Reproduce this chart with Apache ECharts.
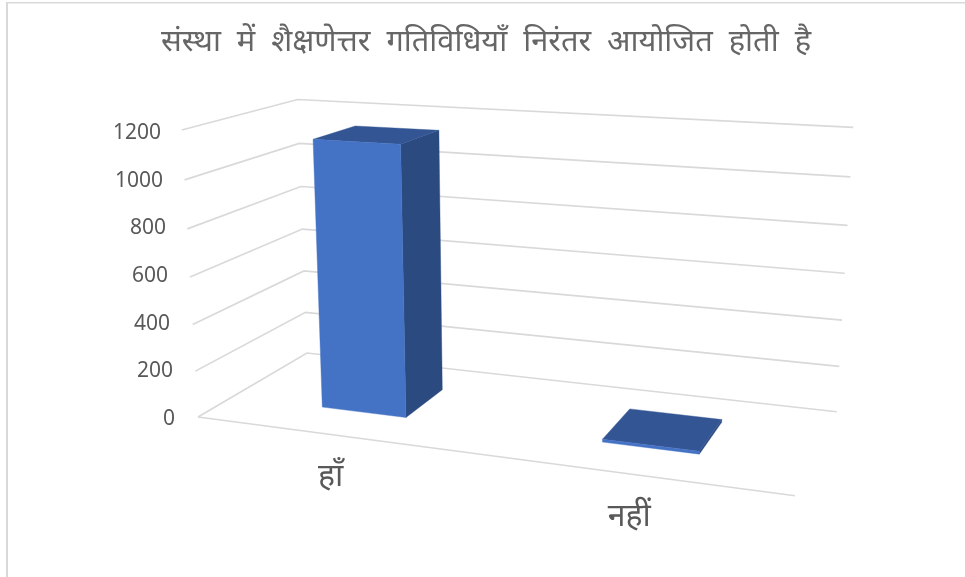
<!DOCTYPE html>
<html><head><meta charset="utf-8">
<style>html,body{margin:0;padding:0;background:#fff}#c{width:965px;height:577px}</style>
<script src="https://cdn.jsdelivr.net/npm/echarts@6/dist/echarts.min.js"></script>
</head><body><div id="c"></div>
<script>
const titleText = 'संस्था  में  शैक्षणेत्तर  गतिविधियाँ  निरंतर  आयोजित  होती  है';
const categories = ['हाँ', 'नहीं'];
const seriesValues = [1140, 12];
const tickValues = [0, 200, 400, 600, 800, 1000, 1200];

const FONT = '"Noto Sans","Open Sans",sans-serif';
const GREY = '#595959';
const TICK_FONT = { fontFamily: FONT, fontSize: 21, color: GREY };
const tickRich = {};
tickValues.forEach((v, i) => { tickRich['r' + v] = Object.assign({ padding: [0, Math.round(i * 2.33), 0, 0] }, TICK_FONT); });
// perspective matrix of the chart box: u along categories, d into depth, t = value share of axis
function project(u, d, t) {
  const w = -0.1415 * u + 0.1382 * d - 0.0489 * t + 1;
  const x = 484.5 * u + 151.4 * d - 25.2 * t + 198;
  const y = 8.6 * u - 15.2 * d - 293.4 * t + 417;
  return [x / w, y / w + 4 * t * u * u * d];
}
function gridT(api, cs, v) { return (cs.y + cs.height - api.coord([0, v])[1]) / cs.height; }

const wallItem = (params, api) => {
  const cs = params.coordSys;
  const t = gridT(api, cs, api.value(0));
  return { type: 'polyline', shape: { points: [project(0, 0, t), project(0, 1, t), project(1, 1, t)] },
    style: { stroke: '#d9d9d9', lineWidth: 1.7, fill: null } };
};
const floorItem = () => ({
  type: 'polyline', shape: { points: [project(0, 0, 0), project(1, 0, 0)] },
  style: { stroke: '#d9d9d9', lineWidth: 1.7, fill: null } });
const barItem = (params, api) => {
  const cs = params.coordSys;
  const c = api.coord([api.value(0), 0]);
  const u = (c[0] - cs.x) / cs.width + 0.0025;
  const t = gridT(api, cs, api.value(1));
  const hw = 0.0785, d0 = 0.30, d1 = 0.70;
  const u0 = u - hw, u1 = u + hw;
  const poly = (pts, fill) => ({ type: 'polygon', shape: { points: pts }, style: { fill, stroke: fill, lineWidth: 0.4 } });
  return { type: 'group', children: [
    poly([project(u1, d0, 0), project(u1, d1, 0), project(u1, d1, t), project(u1, d0, t)], '#2a4a80'),
    poly([project(u0, d0, t), project(u1, d0, t), project(u1, d1, t), project(u0, d1, t)], '#335593'),
    poly([project(u0, d0, 0), project(u1, d0, 0), project(u1, d0, t), project(u0, d0, t)], '#4472c4')
  ] };
};

const chart = echarts.init(document.getElementById('c'), null, { renderer: 'canvas' });
chart.setOption({
  animation: false,
  backgroundColor: '#fff',
  title: { text: titleText, left: 481, top: 22, textAlign: 'center',
    textStyle: { fontFamily: FONT, fontSize: 30.8, fontWeight: 'normal', color: '#666666' } },
  grid: { left: 198, top: 133, width: 597, height: 286 },
  xAxis: { type: 'category',
    data: [
      { value: categories[0], textStyle: { padding: [0, 33, 0, 0] } },
      { value: categories[1], textStyle: { padding: [40, 33, 0, 0] } }
    ],
    axisLine: { show: false }, axisTick: { show: false },
    axisLabel: { margin: 42, fontFamily: FONT, fontSize: 32, color: GREY, interval: 0 } },
  yAxis: { type: 'value', min: 0, max: 1200, interval: 200,
    axisLine: { show: false }, axisTick: { show: false }, splitLine: { show: false },
    axisLabel: { margin: 23, rich: tickRich, formatter: v => '{r' + v + '|' + v + '}' } },
  graphic: [
    { type: 'rect', shape: { x: 6, y: 2, width: 2, height: 575 }, style: { fill: '#d9d9d9' }, silent: true },
    { type: 'rect', shape: { x: 6, y: 2, width: 959, height: 1.4 }, style: { fill: '#d9d9d9' }, silent: true }
  ],
  series: [
    { type: 'custom', name: 'walls', data: tickValues.map(v => [v]), encode: { y: 0 }, renderItem: wallItem, z: 1, silent: true },
    { type: 'custom', name: 'floor', data: [[0]], encode: { y: 0 }, renderItem: floorItem, z: 1, silent: true },
    { type: 'custom', name: 'bars', data: seriesValues.map((v, i) => [i, v]), encode: { x: 0, y: 1 }, renderItem: barItem, z: 2 }
  ]
});
</script></body></html>
